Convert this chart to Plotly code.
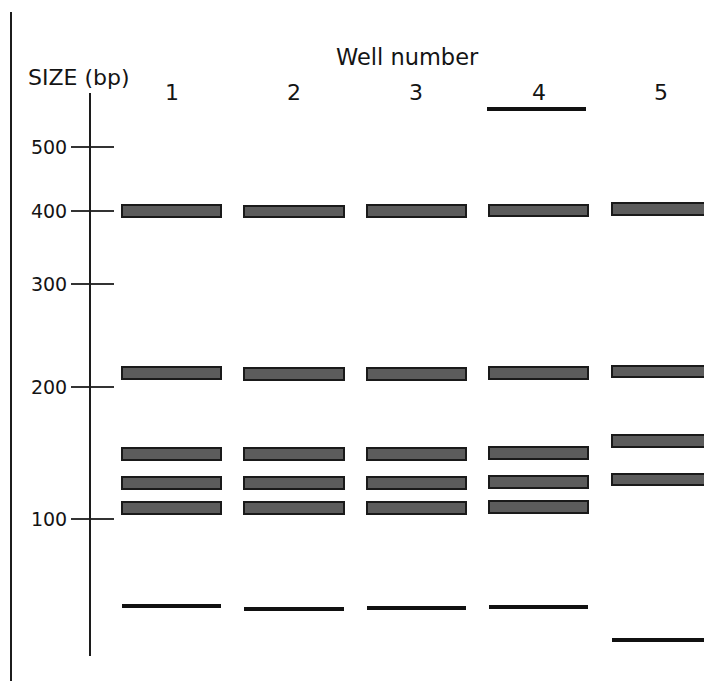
import plotly.graph_objects as go

# ---------------- data ----------------
lanes = [1, 2, 3, 4, 5]
lane_labels = ["1", "2", "3", "4", "5"]
ladder_bp = ["500", "400", "300", "200", "100"]
ladder_dist = [7.6, 20.4, 35.0, 55.6, 82.0]          # migration distance (mm) of size markers

# thick DNA bands: migration distance (mm) per lane
lane1_bands = [20.4, 52.8, 69.0, 74.8, 79.8]
lane2_bands = [20.5, 53.0, 69.0, 74.8, 79.8]
lane3_bands = [20.4, 53.0, 69.0, 74.8, 79.8]
lane4_bands = [20.3, 52.8, 68.8, 74.6, 79.6]
lane5_bands = [20.0, 52.5, 66.4, 74.1]

# thin bands near the bottom (one per lane)
thin_bands = [99.4, 100.0, 99.8, 99.6, 106.2]
# well marker line (lane 4 only)
well_lane = [4]
well_dist = [0.0]

# ---------------- styling constants ----------------
W, H = 704, 681
BAND_LEN = 0.81          # lane units
TXT = "#141414"
FONT = "DejaVu Sans"

fig = go.Figure()

all_thick = [lane1_bands, lane2_bands, lane3_bands, lane4_bands, lane5_bands]
ys, bases = [], []
for ln, bl in zip(lanes, all_thick):
    for d in bl:
        ys.append(d)
        bases.append(ln - BAND_LEN / 2)

fig.add_trace(go.Bar(
    orientation="h", y=ys, x=[BAND_LEN] * len(ys), base=bases,
    width=2.3, marker=dict(color="#5c5c5c", line=dict(color="#1a1a1a", width=2)),
    showlegend=False, hoverinfo="skip"))

fig.add_trace(go.Bar(
    orientation="h", y=thin_bands, x=[BAND_LEN] * len(thin_bands),
    base=[l - BAND_LEN / 2 for l in lanes],
    width=0.8, marker=dict(color="#111111", line=dict(width=0)),
    showlegend=False, hoverinfo="skip"))

fig.add_trace(go.Bar(
    orientation="h", y=well_dist, x=[BAND_LEN] * len(well_dist),
    base=[l - BAND_LEN / 2 - 0.02 for l in well_lane],
    width=0.65, marker=dict(color="#111111", line=dict(width=0)),
    showlegend=False, hoverinfo="skip"))

# axis geometry (pixels -> paper)
axis_top_px, axis_bot_px = 93, 656
axis_x_px = 90
ydom = [(H - axis_bot_px) / H, (H - axis_top_px) / H]
yrange = [109.4, -3.2]

fig.update_layout(
    width=W, height=H, autosize=False,
    margin=dict(l=0, r=0, t=0, b=0),
    paper_bgcolor="white", plot_bgcolor="white",
    barmode="overlay", bargap=0,
    xaxis=dict(range=[-0.402, 5.350], domain=[0, 1], visible=False, fixedrange=True),
    yaxis=dict(domain=ydom, range=yrange, anchor="free", position=axis_x_px / W,
               showline=True, linecolor="#1c1c1c", linewidth=2,
               showgrid=False, zeroline=False,
               tickmode="array", tickvals=ladder_dist, ticktext=ladder_bp,
               ticks="outside", ticklen=18, tickwidth=1.5, tickcolor="#333333",
               tickfont=dict(family=FONT, size=19, color=TXT), ticklabelstandoff=0),
    yaxis2=dict(domain=ydom, range=yrange, anchor="free", position=axis_x_px / W,
                overlaying="y", matches="y", showline=False, showgrid=False, zeroline=False,
                tickmode="array", tickvals=ladder_dist, showticklabels=False,
                ticks="inside", ticklen=23, tickwidth=1.5, tickcolor="#333333"),
)
# invisible helper trace so that yaxis2 (the inner half of each tick) is drawn
fig.add_trace(go.Scatter(x=[0], y=[ladder_dist[0]], yaxis="y2", mode="markers",
                         marker=dict(opacity=0), showlegend=False, hoverinfo="skip"))

# lane numbers
for ln, lab in zip(lanes, lane_labels):
    fig.add_annotation(x=ln, y=(H - 93) / H, xref="x", yref="paper", text=lab,
                       showarrow=False, yanchor="middle", xanchor="center",
                       font=dict(family=FONT, size=22, color=TXT))

fig.add_annotation(x=407 / W, y=(H - 57) / H, xref="paper", yref="paper",
                   text="Well number", showarrow=False, xanchor="center", yanchor="middle",
                   font=dict(family=FONT, size=22.5, color=TXT))
fig.add_annotation(x=26 / W, y=(H - 77) / H, xref="paper", yref="paper",
                   text="SIZE (bp)", showarrow=False, xanchor="left", yanchor="middle",
                   font=dict(family=FONT, size=22, color=TXT))

# page border line on the left
fig.add_shape(type="line", xref="paper", yref="paper",
              x0=11 / W, x1=11 / W, y0=(H - 12) / H, y1=0,
              line=dict(color="#1c1c1c", width=2))

fig.write_html("out.html", config={"displayModeBar": False},
               post_script="document.body.style.margin='0px';")
